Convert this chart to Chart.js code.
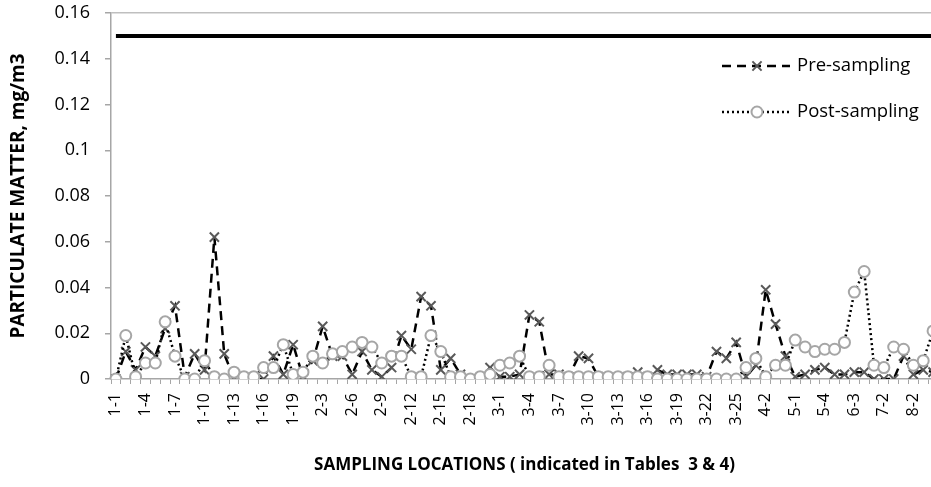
<!DOCTYPE html>
<html>
<head>
<meta charset="utf-8">
<script src="https://cdn.jsdelivr.net/npm/chart.js@4.4.1/dist/chart.umd.min.js"></script>
<style>
  html, body { margin: 0; padding: 0; background: #fff; overflow: hidden; }
  #wrap { width: 950px; height: 487px; }
</style>
</head>
<body>
<div id="wrap"><canvas id="chartPM" width="950" height="487"></canvas></div>
<script>
// sampling locations (group-point), one label every third location
const locations = [
  '1-1','1-2','1-3','1-4','1-5','1-6','1-7','1-8','1-9','1-10','1-11','1-12','1-13','1-14','1-15','1-16','1-17','1-18','1-19',
  '2-1','2-2','2-3','2-4','2-5','2-6','2-7','2-8','2-9','2-10','2-11','2-12','2-13','2-14','2-15','2-16','2-17','2-18','2-19','2-20',
  '3-1','3-2','3-3','3-4','3-5','3-6','3-7','3-8','3-9','3-10','3-11','3-12','3-13','3-14','3-15','3-16','3-17','3-18','3-19','3-20',
  '3-21','3-22','3-23','3-24','3-25','3-26',
  '4-1','4-2','4-3','4-4',
  '5-1','5-2','5-3','5-4',
  '6-1','6-2','6-3','6-4',
  '7-1','7-2','7-3',
  '8-1','8-2','8-3','8-4'
];

// mg/m3
const preSampling = [
  0, 0.012, 0.004, 0.014, 0.010, 0.022, 0.032, 0.001, 0.011, 0.004,
  0.062, 0.011, 0, 0, 0, 0, 0.010, 0.002, 0.015, 0.001,
  0.008, 0.023, 0.010, 0.010, 0.002, 0.012, 0.004, 0.001, 0.005, 0.019,
  0.013, 0.036, 0.032, 0.004, 0.009, 0.002, 0, 0, 0.005, 0.001,
  0.001, 0.002, 0.028, 0.025, 0.002, 0.002, 0.001, 0.010, 0.009, 0.001,
  0, 0, 0.001, 0.003, 0.001, 0.004, 0.002, 0.002, 0.002, 0.002,
  0.001, 0.012, 0.009, 0.016, 0.001, 0.006, 0.039, 0.024, 0.010, 0.001,
  0.002, 0.004, 0.005, 0.002, 0.002, 0.003, 0.003, 0, 0, 0,
  0.010, 0.002, 0.004, 0.003
];

const postSampling = [
  0, 0.019, 0.001, 0.007, 0.007, 0.025, 0.010, 0, 0, 0.008,
  0.001, 0, 0.003, 0.001, 0.001, 0.005, 0.005, 0.015, 0.002, 0.003,
  0.010, 0.007, 0.011, 0.012, 0.014, 0.016, 0.014, 0.007, 0.010, 0.010,
  0.001, 0.001, 0.019, 0.012, 0.001, 0.001, 0, 0.001, 0.002, 0.006,
  0.007, 0.010, 0.001, 0.001, 0.006, 0.001, 0.001, 0.001, 0.001, 0.001,
  0.001, 0.001, 0.001, 0.001, 0.001, 0, 0, 0, 0, 0,
  0, 0, 0, 0, 0.005, 0.009, 0.001, 0.006, 0.006, 0.017,
  0.014, 0.012, 0.013, 0.013, 0.016, 0.038, 0.047, 0.006, 0.005, 0.014,
  0.013, 0.006, 0.008, 0.021
];

const LIMIT = 0.15;          // permissible level
const yTicks = { min: 0, max: 0.16, step: 0.02 };

const FONT = "'Open Sans', 'Noto Sans', sans-serif";

// legend drawn inside the plot, top right, like the original
const insideLegend = {
  id: 'insideLegend',
  afterDatasetsDraw(chart) {
    const ctx = chart.ctx;
    const rows = [
      { ds: chart.data.datasets[0], y: 66 },
      { ds: chart.data.datasets[1], y: 112 }
    ];
    ctx.save();
    rows.forEach(({ ds, y }) => {
      ctx.beginPath();
      ctx.setLineDash(ds.borderDash);
      ctx.strokeStyle = ds.borderColor;
      ctx.lineWidth = ds.borderWidth;
      ctx.moveTo(722, y);
      ctx.lineTo(790, y);
      ctx.stroke();
      ctx.setLineDash([]);
      ctx.strokeStyle = ds.pointBorderColor;
      ctx.fillStyle = ds.pointBackgroundColor;
      ctx.lineWidth = ds.pointBorderWidth;
      Chart.helpers.drawPoint(ctx, { pointStyle: ds.pointStyle, radius: ds.pointRadius, rotation: 0, borderWidth: ds.pointBorderWidth }, 757, y);
      ctx.fillStyle = '#000';
      ctx.font = `18.5px ${FONT}`;
      ctx.textAlign = 'left';
      ctx.textBaseline = 'middle';
      ctx.fillText(ds.label, 797, y);
    });
    ctx.restore();
  }
};

new Chart(document.getElementById('chartPM'), {
  type: 'line',
  data: {
    labels: locations,
    datasets: [
      {
        label: 'Pre-sampling',
        data: preSampling,
        borderColor: '#000',
        borderWidth: 2.5,
        borderDash: [9, 6],
        pointStyle: 'crossRot',
        pointRadius: 6.5,
        pointBorderColor: '#595959',
        pointBackgroundColor: '#595959',
        pointBorderWidth: 2,
        order: 1
      },
      {
        label: 'Post-sampling',
        data: postSampling,
        borderColor: '#000',
        borderWidth: 2.5,
        borderDash: [2, 3],
        pointStyle: 'circle',
        pointRadius: 5.5,
        pointBorderColor: '#a6a6a6',
        pointBackgroundColor: '#fff',
        pointBorderWidth: 2,
        order: 0
      },
      {
        label: 'Limit',
        data: locations.map(() => LIMIT),
        borderColor: '#000',
        borderWidth: 4,
        pointRadius: 0,
        order: 2
      }
    ]
  },
  options: {
    responsive: false,
    animation: false,
    layout: { padding: { top: 0, right: 12, left: 0, bottom: 0 } },
    plugins: { legend: { display: false }, tooltip: { enabled: false } },
    scales: {
      x: {
        offset: true,
        grid: { offset: true, drawOnChartArea: false, tickLength: 5, tickColor: '#a6a6a6' },
        border: { color: '#a6a6a6', width: 1.5 },
        ticks: {
          autoSkip: false, maxRotation: 90, minRotation: 90, padding: 9,
          color: '#000', font: { family: FONT, size: 16 },
          callback: (v, i) => (i % 3 === 0 ? locations[i] : '')
        },
        title: {
          display: true, text: 'SAMPLING LOCATIONS ( indicated in Tables  3 & 4)',
          color: '#000', font: { family: FONT, size: 17, weight: 'bold' },
          padding: { top: 0, bottom: 12 }
        },
        afterFit: s => { s.height = 108; s.paddingLeft = 0; s.paddingRight = 0; }
      },
      y: {
        min: yTicks.min, max: yTicks.max,
        grid: {
          color: c => (c.tick && c.tick.value === yTicks.max ? '#bfbfbf' : 'transparent'),
          tickColor: '#a6a6a6', tickLength: 6, lineWidth: 1.5
        },
        border: { color: '#a6a6a6', width: 1.5 },
        ticks: {
          stepSize: yTicks.step, padding: 15, color: '#000',
          font: { family: FONT, size: 18 },
          callback: v => String(+v.toFixed(2))
        },
        title: {
          display: true, text: 'PARTICULATE MATTER, mg/m3',
          color: '#000', font: { family: FONT, size: 19, weight: 'bold' },
          padding: { top: 7, bottom: 0 }
        },
        afterFit: s => { s.width = 111; s.paddingTop = 13; s.paddingBottom = 0; }
      }
    }
  },
  plugins: [insideLegend]
});
</script>
</body>
</html>
